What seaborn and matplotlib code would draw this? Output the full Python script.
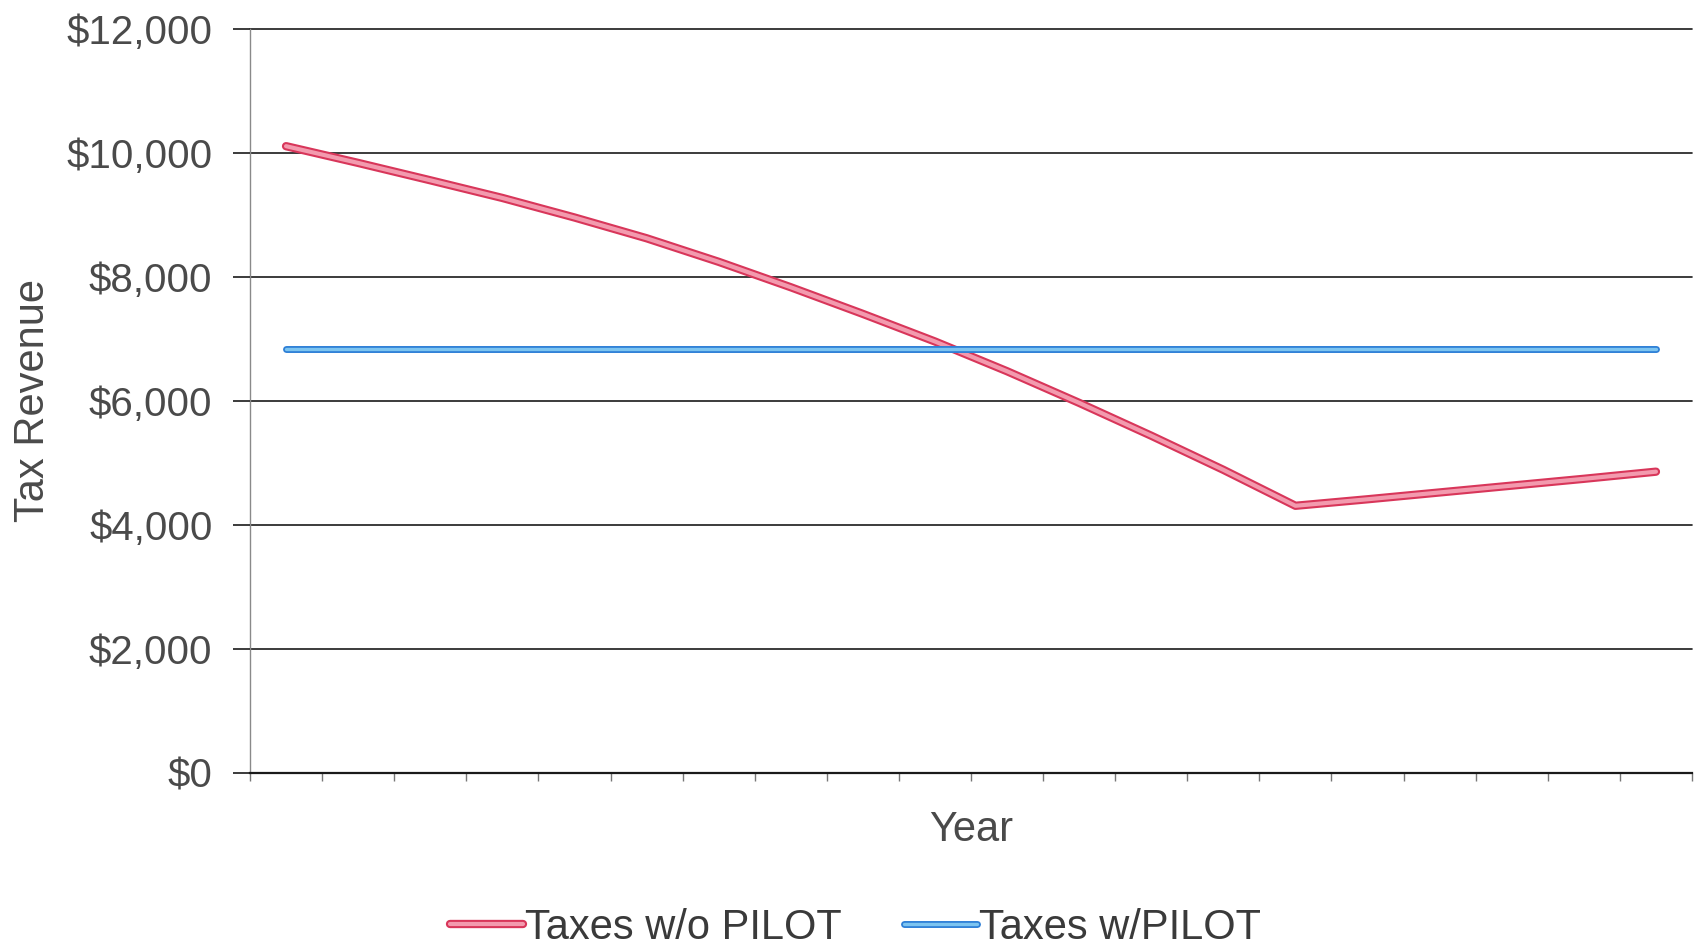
import matplotlib
matplotlib.use("Agg")
import matplotlib.pyplot as plt
import matplotlib.patheffects as pe
from matplotlib.lines import Line2D
from matplotlib.ticker import FuncFormatter, FixedLocator
import seaborn as sns
import pandas as pd

# ---- data ----
years = list(range(1, 21))
taxes_without_pilot = [10110, 9840, 9560, 9275, 8960, 8625, 8245, 7835, 7405, 6960,
                       6480, 5970, 5440, 4890, 4310, 4415, 4525, 4635, 4745, 4860]
taxes_with_pilot = [6840, 6840, 6840, 6840, 6840, 6840, 6840, 6840, 6840, 6840,
                    6840, 6840, 6840, 6840, 6840, 6840, 6840, 6840, 6840, 6840]
series_names = ["Taxes w/o PILOT", "Taxes w/PILOT"]
y_ticks = [0, 2000, 4000, 6000, 8000, 10000, 12000]

df = pd.DataFrame({"pos": list(range(len(years))),
                   "Taxes w/o PILOT": taxes_without_pilot,
                   "Taxes w/PILOT": taxes_with_pilot})

sns.set_theme(style="white")
plt.rcParams["font.family"] = ["Liberation Sans", "DejaVu Sans"]

W, H = 1697, 948
fig = plt.figure(figsize=(W / 100, H / 100), dpi=100)
fig.patch.set_facecolor("white")
left, right, top, bottom = 250, 1692, 29, 773
ax = fig.add_axes([left / W, 1 - bottom / H, (right - left) / W, (bottom - top) / H])

styles = {
    "Taxes w/o PILOT": dict(inner="#f39aae", outer="#d8365a", lw_in=3.0, lw_out=6.0),
    "Taxes w/PILOT": dict(inner="#7cc4f0", outer="#2d7fd6", lw_in=2.4, lw_out=5.0),
}

for name in series_names:
    st = styles[name]
    n_before = len(ax.lines)
    sns.lineplot(data=df, x="pos", y=name, ax=ax, color=st["inner"],
                 linewidth=st["lw_in"], legend=False, zorder=3)
    for ln in ax.lines[n_before:]:
        ln.set_path_effects([pe.Stroke(linewidth=st["lw_out"], foreground=st["outer"]),
                             pe.Normal()])
        ln.set_solid_capstyle("round")

ax.set_xlim(-0.5, len(years) - 0.5)
ax.set_ylim(0, 12000)
ax.set_yticks(y_ticks)
ax.yaxis.set_major_formatter(FuncFormatter(lambda v, p: "${:,.0f}".format(v)))
ax.xaxis.set_major_locator(FixedLocator([i - 0.5 for i in range(len(years) + 1)]))
ax.set_xticklabels([])

ax.grid(axis="y", color="#1a1a1a", linewidth=1.2)
ax.grid(axis="x", visible=False)
for gl in ax.get_ygridlines():
    gl.set_clip_on(False)
ax.set_axisbelow(True)

for s in ["top", "right"]:
    ax.spines[s].set_visible(False)
ax.spines["left"].set_color("#8a8a8a")
ax.spines["left"].set_linewidth(1.0)
ax.spines["bottom"].set_color("#1a1a1a")
ax.spines["bottom"].set_linewidth(1.6)

ax.tick_params(axis="y", which="major", direction="out", length=12, width=1.2,
               color="#1a1a1a", labelsize=29, labelcolor="#4a4a4a", pad=15, left=True)
ax.tick_params(axis="x", which="major", direction="out", length=6, width=1.0,
               color="#777777", bottom=True)

ax.set_ylabel("")
ax.set_xlabel("Year", fontsize=30, color="#4a4a4a")
ax.xaxis.set_label_coords(0.5, -0.05)
fig.text(33 / W, 1 - 400.6 / H, "Tax Revenue", rotation=90, ha="center", va="center",
         fontsize=30, color="#4a4a4a")

handles = []
for name in series_names:
    st = styles[name]
    h = Line2D([0], [0], color=st["inner"], linewidth=st["lw_in"])
    h.set_path_effects([pe.Stroke(linewidth=st["lw_out"], foreground=st["outer"]), pe.Normal()])
    handles.append(h)
leg = fig.legend(handles, series_names, loc="center", bbox_to_anchor=(0.504, 1 - 928 / H),
                 ncol=2, frameon=False, fontsize=30, handlelength=1.75,
                 handletextpad=0.05, columnspacing=1.5)
for t in leg.get_texts():
    t.set_color("#3a3a3a")

fig.savefig("out.png", dpi=100, facecolor="white")
